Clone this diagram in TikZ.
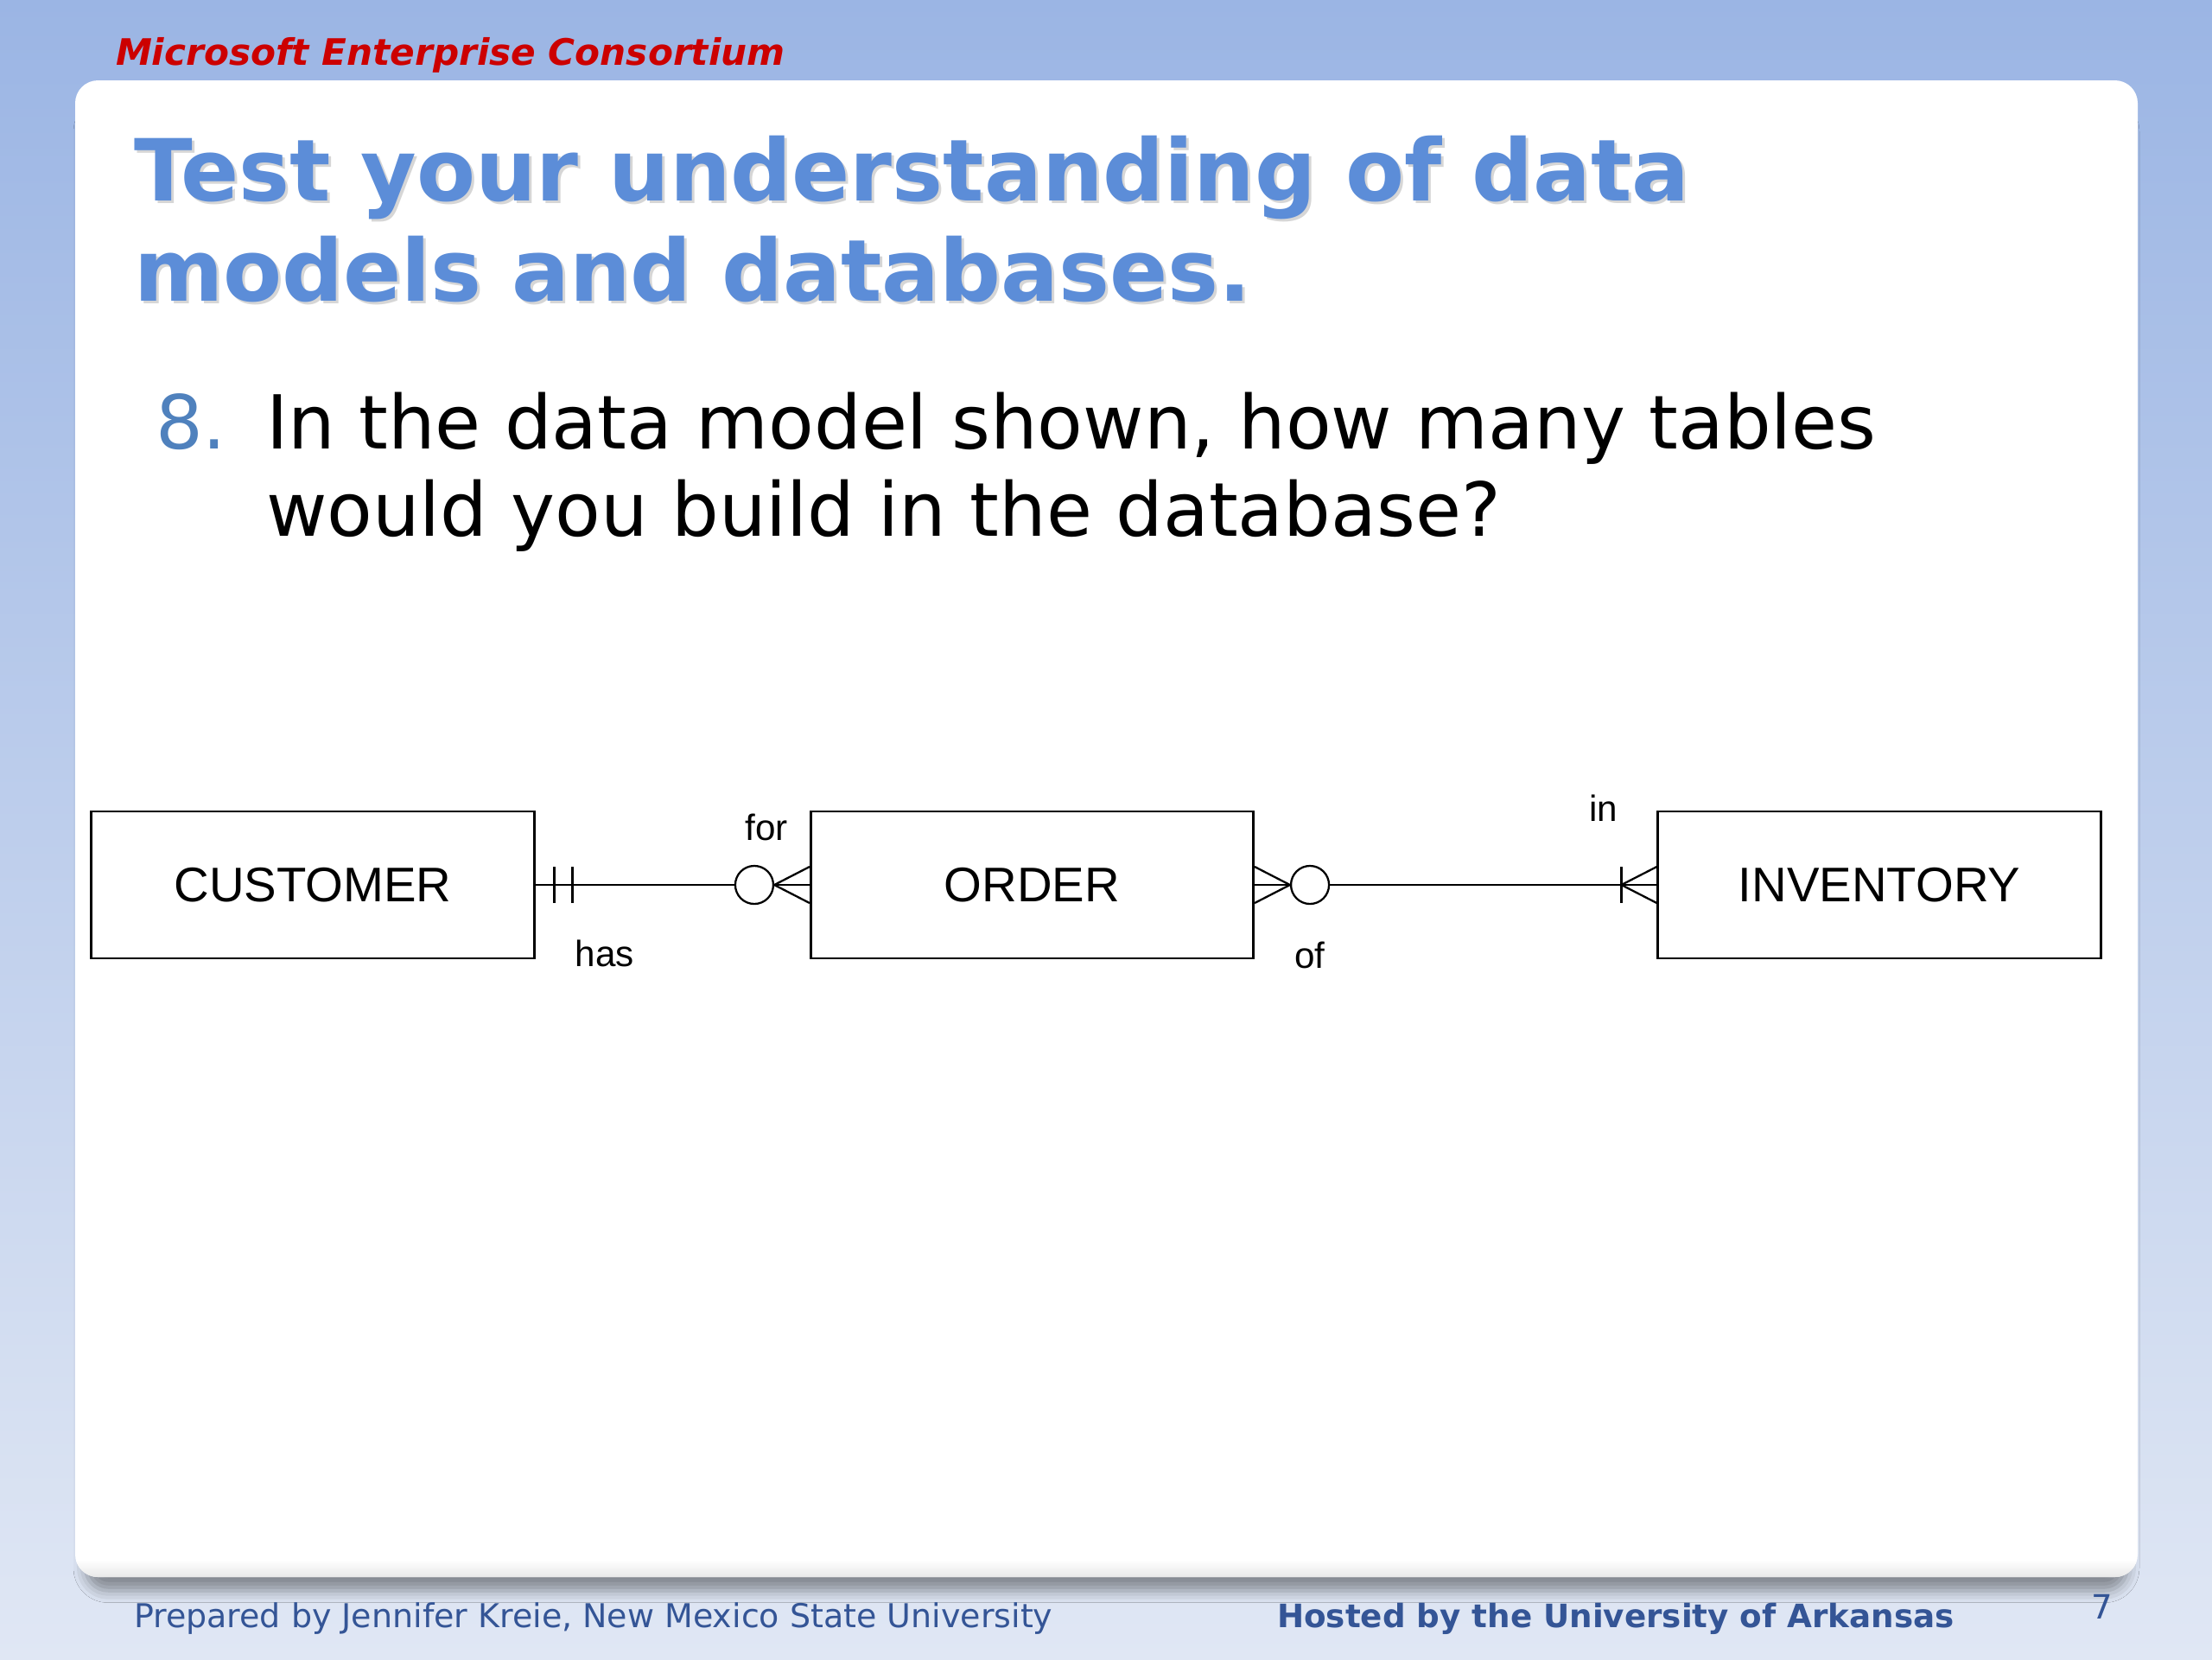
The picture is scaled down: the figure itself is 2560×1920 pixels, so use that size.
\documentclass[tikz,border=0pt]{standalone}
\usepackage{fontspec}
\setmainfont{DejaVu Sans}
\newfontfamily\arialf{Liberation Sans}
\usetikzlibrary{calc,shadows.blur}
\definecolor{bgtop}{RGB}{155,181,228}
\definecolor{bgbot}{RGB}{224,231,244}
\definecolor{titleblue}{RGB}{92,141,216}
\definecolor{numblue}{RGB}{79,129,189}
\definecolor{hdrred}{RGB}{204,0,0}
\definecolor{footblue}{RGB}{52,85,150}
\begin{document}
\begin{tikzpicture}[x=0.01cm,y=-0.01cm,
  txt/.style={anchor=base west,inner sep=0pt,outer sep=0pt},
  titletxt/.style={txt,text=titleblue,font=\bfseries\fontsize{28.2}{33}\selectfont},
  titleshadow/.style={txt,text=black,opacity=0.16,font=\bfseries\fontsize{28.2}{33}\selectfont},
  bodytxt/.style={txt,text=black,font=\fontsize{24.5}{29}\selectfont},
  foottxt/.style={txt,text=footblue,font=\fontsize{10.8}{12}\selectfont},
  entity/.style={draw=black,line width=0.8pt,fill=white,minimum width=5.12cm,minimum height=1.70cm,inner sep=0pt,font=\arialf\fontsize{16}{19}\selectfont},
  rel/.style={draw=black,line width=0.65pt},
  optcirc/.style={circle,draw=black,line width=0.65pt,fill=white,minimum size=0.44cm,inner sep=0pt},
  rlabel/.style={anchor=base,inner sep=0pt,font=\arialf\fontsize{12}{14}\selectfont}]
\useasboundingbox (0,0) rectangle (2560,1920);
\shade[top color=bgtop,bottom color=bgbot] (0,0) rectangle (2560,1920);
% card
\path[fill=white,rounded corners=7.5pt,blur shadow={shadow xshift=0pt,shadow yshift=-7pt,shadow scale=0.99,shadow blur radius=4pt,shadow opacity=40}] (87,93) rectangle (2474,1825);
\begin{scope}
  \clip[rounded corners=7.5pt] (87,93) rectangle (2474,1825);
  \shade[top color=white,bottom color=black!9] (87,1805) rectangle (2474,1825);
\end{scope}
% header
\node[txt,text=hdrred,font=\bfseries\itshape\fontsize{12}{14}\selectfont] (hdr) at (134,75) {Microsoft Enterprise Consortium};
% title
\node[titleshadow] (t1s) at (158,235) {Test your understanding of data};
\node[titleshadow] (t2s) at (158,351) {models and databases.};
\node[titletxt] (t1) at (155,232) {Test your understanding of data};
\node[titletxt] (t2) at (155,348) {models and databases.};
% body
\node[txt,text=numblue,font=\fontsize{24.5}{29}\selectfont] (num) at (180,519) {8.};
\node[bodytxt] (b1) at (308,519) {In the data model shown, how many tables};
\node[bodytxt] (b2) at (308,620) {would you build in the database?};
% ER diagram
\node[entity] (cust) at (362,1024) {CUSTOMER};
\node[entity] (ord) at (1194.5,1024) {ORDER};
\node[entity] (inv) at (2175,1024) {INVENTORY};
% customer -- order
\node[optcirc] (c1) at ($(ord.west)+(-64,0)$) {};
\draw[rel] (cust.east) -- (c1.west);
\draw[rel] ($(cust.east)+(22,-21)$) -- ($(cust.east)+(22,21)$);
\draw[rel] ($(cust.east)+(43,-21)$) -- ($(cust.east)+(43,21)$);
\draw[rel] (c1.east) -- (ord.west);
\draw[rel] ($(ord.west)+(0,-21)$) -- (c1.east) -- ($(ord.west)+(0,21)$);
% order -- inventory
\node[optcirc] (c2) at ($(ord.east)+(64,0)$) {};
\draw[rel] (ord.east) -- (c2.west);
\draw[rel] ($(ord.east)+(0,-21)$) -- (c2.west) -- ($(ord.east)+(0,21)$);
\draw[rel] (c2.east) -- (inv.west);
\coordinate (p2) at ($(inv.west)+(-41,0)$);
\draw[rel] ($(inv.west)+(0,-21)$) -- (p2) -- ($(inv.west)+(0,21)$);
\draw[rel] ($(p2)+(0,-21)$) -- ($(p2)+(0,21)$);
% relationship labels
\node[rlabel] (lfor) at (887,972) {for};
\node[rlabel] (lhas) at (700,1118) {has};
\node[rlabel] (lin) at (1856,950) {in};
\node[rlabel] (lof) at (1516,1120) {of};
% footer
\node[foottxt] (f1) at (155,1883) {Prepared by Jennifer Kreie, New Mexico State University};
\node[foottxt,font=\bfseries\fontsize{10.6}{12}\selectfont] (f2) at (1478,1883) {Hosted by the University of Arkansas};
\node[foottxt,font=\fontsize{11}{12}\selectfont] (pg) at (2420,1873) {7};
\end{tikzpicture}
\end{document}
